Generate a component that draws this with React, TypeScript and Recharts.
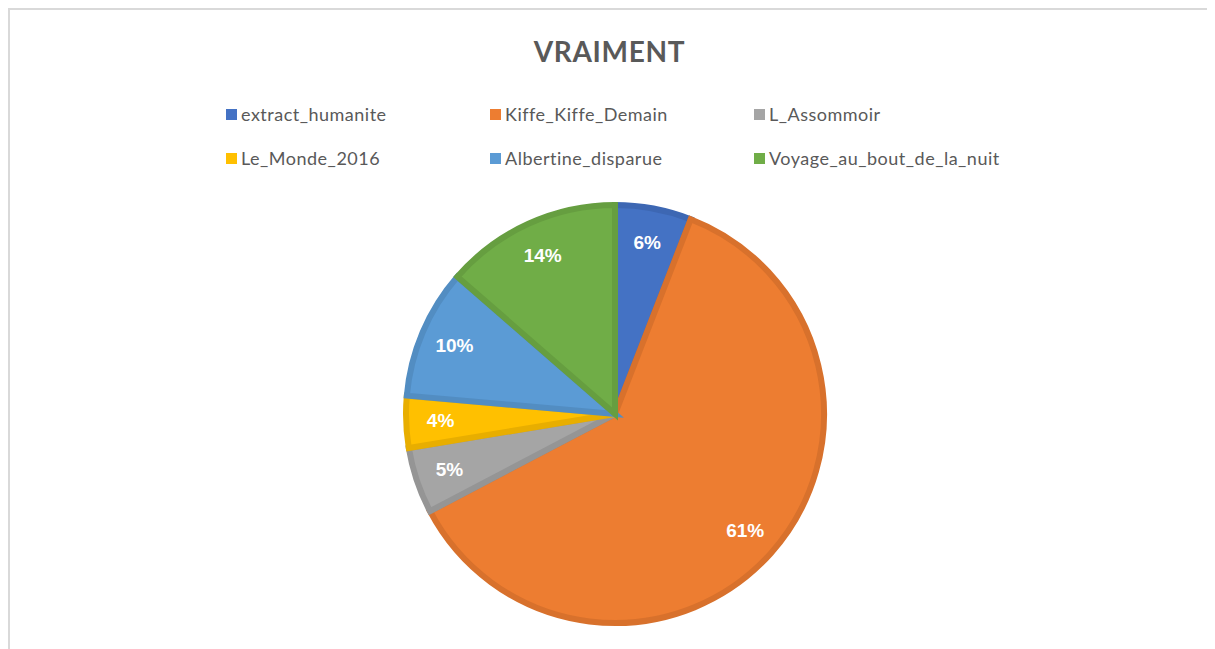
import { Cell, Legend, Pie, PieChart } from "recharts";

// slice names, in the order they run clockwise from 12 o'clock
const NAMES = [
  "extract_humanite",
  "Kiffe_Kiffe_Demain",
  "L_Assommoir",
  "Le_Monde_2016",
  "Albertine_disparue",
  "Voyage_au_bout_de_la_nuit",
];
// share of each text (percent)
const SHARES = [5.9, 61.4, 5.1, 4.0, 10.0, 13.6];

const FILLS = ["#4472C4", "#ED7D31", "#A5A5A5", "#FFC000", "#5B9BD5", "#70AD47"];
const EDGES = ["#3D67B3", "#D8712C", "#959595", "#E8AE00", "#528DC2", "#669E40"];

const data = NAMES.map((name, i) => ({ name, value: SHARES[i] }));

const W = 1207;
const H = 641;
const RADIAN = Math.PI / 180;

// % label inside each slice
const renderLabel = (props: any) => {
  const { cx, cy, midAngle, outerRadius, percent } = props;
  const r = (outerRadius ?? 0) * 0.835;
  const x = cx + r * Math.cos(-midAngle * RADIAN);
  const y = cy + r * Math.sin(-midAngle * RADIAN);
  return (
    <text
      x={x}
      y={y}
      fill="#ffffff"
      textAnchor="middle"
      dominantBaseline="central"
      fontFamily="'Liberation Sans', Arial, sans-serif"
      fontWeight="bold"
      fontSize={19}
    >
      {`${Math.round(percent * 100)}%`}
    </text>
  );
};

// legend laid out in 3 columns x 2 rows, like the office chart
const renderLegend = () => (
  <div style={{ position: "relative", width: W, height: 0 }}>
    {NAMES.map((name, i) => {
      const col = i % 3;
      const row = Math.floor(i / 3);
      return (
        <div
          key={name}
          style={{
            position: "absolute",
            left: 216 + col * 264,
            top: 94 + row * 44,
            display: "flex",
            alignItems: "center",
            height: 20,
            whiteSpace: "nowrap",
          }}
        >
          <span
            style={{
              display: "inline-block",
              width: 11,
              height: 11,
              background: FILLS[i],
              marginRight: 4,
            }}
          />
          <span
            style={{
              fontFamily: "Lato, 'Open Sans', sans-serif",
              fontSize: 18,
              letterSpacing: 0.5,
              color: "#595959",
            }}
          >
            {name}
          </span>
        </div>
      );
    })}
  </div>
);

export default function App() {
  return (
    <div
      style={{
        width: W,
        height: H,
        borderTop: "2px solid #d9d9d9",
        borderLeft: "2px solid #d9d9d9",
        position: "relative",
        background: "#fff",
        overflow: "hidden",
      }}
    >
      <style>{"html,body{overflow:hidden}"}</style>
      <div
        style={{
          position: "absolute",
          top: 24,
          left: 0,
          width: 1199,
          textAlign: "center",
          fontFamily: "Lato, 'Open Sans', sans-serif",
          fontWeight: "bold",
          fontSize: 28,
          color: "#595959",
          letterSpacing: 0.7,
          zIndex: 2,
        }}
      >
        VRAIMENT
      </div>
      <PieChart width={W} height={H} margin={{ top: 0, right: 0, bottom: 0, left: 0 }}>
        <Pie
          data={data}
          dataKey="value"
          nameKey="name"
          cx={605}
          cy={404}
          outerRadius={209}
          startAngle={90}
          endAngle={-270}
          strokeWidth={6}
          label={renderLabel}
          labelLine={false}
          isAnimationActive={false}
        >
          {data.map((_, index) => (
            <Cell key={`cell-${index}`} fill={FILLS[index]} stroke={EDGES[index]} />
          ))}
        </Pie>
        <Legend
          verticalAlign="bottom"
          content={renderLegend}
          wrapperStyle={{ position: "absolute", top: 0, left: 0, width: W, height: 0 }}
        />
      </PieChart>
    </div>
  );
}
